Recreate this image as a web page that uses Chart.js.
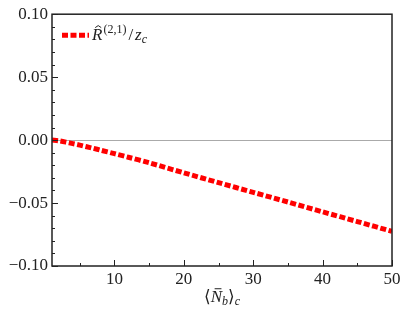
<!DOCTYPE html>
<html>
<head>
<meta charset="utf-8">
<script src="https://cdn.jsdelivr.net/npm/chart.js@4.4.1/dist/chart.umd.min.js"></script>
<style>
  html, body { margin: 0; padding: 0; background: #fff; }
</style>
</head>
<body>
<canvas id="chart" width="407" height="314"></canvas>
<script>
// mean baryon number <N_b>_c
const nbValues = [1, 2, 3, 4, 5, 6, 7, 8, 10, 12, 15, 20, 25, 30, 35, 40, 45, 50];
// R^(2,1)/z_c
const rValues = [0, -0.0006, -0.0016, -0.0028, -0.0040, -0.0053, -0.0066, -0.0080, -0.0108,
  -0.0136, -0.0180, -0.0260, -0.0338, -0.0415, -0.0492, -0.0570, -0.0647, -0.0725];

const xTicks = [10, 20, 30, 40, 50];
const xMinorTicks = [5, 15, 25, 35, 45];
const yTicks = [-0.10, -0.05, 0, 0.05, 0.10];
const yMinorTicks = [-0.09, -0.08, -0.07, -0.06, -0.04, -0.03, -0.02, -0.01,
  0.01, 0.02, 0.03, 0.04, 0.06, 0.07, 0.08, 0.09];

const FONT = '"Liberation Serif", "DejaVu Serif", serif';
const INK = '#222';

function drawRuns(ctx, x, y, runs, align) {
  let total = 0;
  runs.forEach(r => {
    ctx.font = (r.italic ? 'italic ' : '') + r.size + 'px ' + FONT;
    r.w = ctx.measureText(r.t).width + (r.gap || 0);
    total += r.w;
  });
  if (align === 'center') x -= total / 2;
  ctx.textAlign = 'left';
  ctx.textBaseline = 'alphabetic';
  runs.forEach(r => {
    ctx.font = (r.italic ? 'italic ' : '') + r.size + 'px ' + FONT;
    ctx.fillText(r.t, x, y + (r.dy || 0));
    if (r.bar) {
      // accent bar / hat over the letter
      const w = r.w - (r.gap || 0);
      ctx.save();
      ctx.strokeStyle = ctx.fillStyle;
      ctx.lineWidth = 1;
      ctx.beginPath();
      if (r.bar === 'macron') {
        ctx.moveTo(x + w * 0.35, y - r.size * 0.78);
        ctx.lineTo(x + w * 0.95, y - r.size * 0.78);
      } else {
        const cx = x + w * 0.6;
        ctx.moveTo(cx - 3, y - r.size * 0.74);
        ctx.lineTo(cx, y - r.size * 0.86);
        ctx.lineTo(cx + 3, y - r.size * 0.74);
      }
      ctx.stroke();
      ctx.restore();
    }
    x += r.w;
  });
}

const decorations = {
  id: 'decorations',
  afterDraw(chart) {
    const ctx = chart.ctx;
    const area = chart.chartArea;
    const xs = chart.scales.x, ys = chart.scales.y;
    ctx.save();
    ctx.strokeStyle = INK;
    ctx.fillStyle = INK;

    // frame
    ctx.lineWidth = 1.5;
    ctx.strokeRect(area.left, area.top, area.right - area.left, area.bottom - area.top);

    // inward ticks on bottom and left
    ctx.lineWidth = 1;
    ctx.beginPath();
    xTicks.forEach(v => { const p = Math.round(xs.getPixelForValue(v)) + 0.5; ctx.moveTo(p, area.bottom); ctx.lineTo(p, area.bottom - 6); });
    xMinorTicks.forEach(v => { const p = Math.round(xs.getPixelForValue(v)) + 0.5; ctx.moveTo(p, area.bottom); ctx.lineTo(p, area.bottom - 3); });
    yTicks.forEach(v => { const p = Math.round(ys.getPixelForValue(v)) + 0.5; ctx.moveTo(area.left, p); ctx.lineTo(area.left + 6, p); });
    yMinorTicks.forEach(v => { const p = Math.round(ys.getPixelForValue(v)) + 0.5; ctx.moveTo(area.left, p); ctx.lineTo(area.left + 3, p); });
    ctx.stroke();

    // legend
    const ds = chart.data.datasets[0];
    ctx.strokeStyle = ds.borderColor;
    ctx.lineWidth = ds.borderWidth;
    ctx.setLineDash(ds.borderDash);
    ctx.beginPath();
    ctx.moveTo(area.left + 10, area.top + 21);
    ctx.lineTo(area.left + 37, area.top + 21);
    ctx.stroke();
    ctx.setLineDash([]);
    ctx.fillStyle = INK;
    drawRuns(ctx, area.left + 40, area.top + 26, [
      { t: 'R', italic: true, size: 17, gap: 1, bar: 'hat' },
      { t: '(2,1)', size: 12, dy: -7, gap: 2 },
      { t: '/', size: 17, gap: 2 },
      { t: 'z', italic: true, size: 17 },
      { t: 'c', italic: true, size: 12, dy: 3 }
    ]);

    // x axis title
    drawRuns(ctx, (area.left + area.right) / 2, 302, [
      { t: '\u27E8', size: 17 },
      { t: 'N', italic: true, size: 17, bar: 'macron' },
      { t: 'b', italic: true, size: 12, dy: 3 },
      { t: '\u27E9', size: 17 },
      { t: 'c', italic: true, size: 12, dy: 3 }
    ], 'center');
    ctx.restore();
  }
};

new Chart(document.getElementById('chart'), {
  type: 'line',
  data: {
    datasets: [{
      label: 'R^(2,1)/z_c',
      data: nbValues.map((x, i) => ({ x: x, y: rValues[i] })),
      borderColor: '#ff0000',
      borderWidth: 5,
      borderDash: [6, 2.5],
      borderCapStyle: 'butt',
      pointRadius: 0,
      fill: false,
      tension: 0.3
    }]
  },
  options: {
    responsive: false,
    animation: false,
    devicePixelRatio: 1,
    layout: { padding: { left: 0, top: 12, right: 15, bottom: 0 } },
    plugins: { legend: { display: false }, tooltip: { enabled: false } },
    scales: {
      x: {
        type: 'linear',
        min: 1,
        max: 50,
        afterBuildTicks: s => { s.ticks = xTicks.map(v => ({ value: v })); },
        afterFit: s => { s.height = 48; },
        grid: { display: false, drawTicks: false },
        border: { display: false },
        ticks: { color: INK, padding: 3, font: { family: FONT, size: 17 } }
      },
      y: {
        min: -0.1,
        max: 0.1,
        afterBuildTicks: s => { s.ticks = yTicks.map(v => ({ value: v })); },
        afterFit: s => { s.width = 52; },
        grid: {
          drawTicks: false,
          color: c => (c.tick && c.tick.value === 0 ? '#aaaaaa' : 'rgba(0,0,0,0)'),
          lineWidth: 1
        },
        border: { display: false },
        ticks: {
          color: INK,
          padding: 4,
          font: { family: FONT, size: 17 },
          callback: v => (v < 0 ? '\u2212' : '') + Math.abs(v).toFixed(2)
        }
      }
    }
  },
  plugins: [decorations]
});
</script>
</body>
</html>
